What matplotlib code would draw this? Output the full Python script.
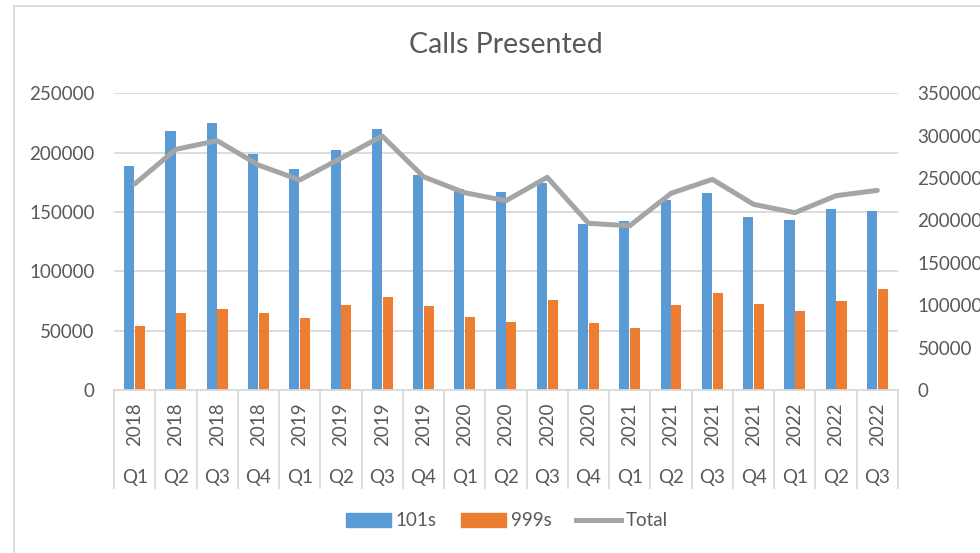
import numpy as np
import matplotlib
matplotlib.use("Agg")
import matplotlib.pyplot as plt
from matplotlib.lines import Line2D
from matplotlib.patches import Patch

plt.rcParams['font.family'] = ['Lato', 'DejaVu Sans']

years = ["2018", "2018", "2018", "2018", "2019", "2019", "2019", "2019",
         "2020", "2020", "2020", "2020", "2021", "2021", "2021", "2021",
         "2022", "2022", "2022"]
quarters = ["Q1", "Q2", "Q3", "Q4", "Q1", "Q2", "Q3", "Q4",
            "Q1", "Q2", "Q3", "Q4", "Q1", "Q2", "Q3", "Q4",
            "Q1", "Q2", "Q3"]
calls_101 = [188700, 218500, 225200, 198600, 186000, 202200, 219700, 181200,
             169400, 166800, 174700, 140100, 142100, 160400, 166000, 146000,
             143000, 152500, 150600]
calls_999 = [54200, 64600, 68500, 64600, 60900, 71400, 78100, 70500,
             61800, 57000, 76100, 56200, 52200, 71400, 82000, 72200,
             66600, 75200, 84800]
total = [243000, 283900, 294100, 265400, 247700, 273300, 299600, 251600,
         232700, 223300, 250900, 196600, 193800, 232000, 248500, 219000,
         209200, 229200, 235500]

BLUE = "#5B9BD5"
ORANGE = "#ED7D31"
GREY = "#A5A5A5"
TXT = "#595959"
GRID = "#D9D9D9"
FS = 13.5

fig = plt.figure(figsize=(9.8, 5.53), dpi=100)
ax = fig.add_axes([114/980, 1-390/553, (898-114)/980, (390-93.3)/553])
ax2 = ax.twinx()

x = np.arange(len(years))
w = 0.245
ax.bar(x - 0.13, calls_101, w, color=BLUE, zorder=2)
ax.bar(x + 0.13, calls_999, w, color=ORANGE, zorder=2)
ax2.plot(x, total, color=GREY, lw=3.6, solid_capstyle='round', solid_joinstyle='round')

ax.set_xlim(-0.5, len(years) - 0.5)
ax.set_ylim(0, 250000)
ax.set_yticks(np.arange(0, 250001, 50000))
ax2.set_ylim(0, 350000)
ax2.set_yticks(np.arange(0, 350001, 50000))
ax.yaxis.grid(True, color=GRID, lw=1.3, zorder=0)
ax.set_axisbelow(True)

for a in (ax, ax2):
    for s in a.spines.values():
        s.set_visible(False)
    a.tick_params(axis='y', length=0, labelsize=FS, labelcolor=TXT, pad=14)
ax.spines['bottom'].set_visible(True)
ax.spines['bottom'].set_color(GRID)
ax.spines['bottom'].set_linewidth(1.3)
ax.set_xticks([])

# two-level category axis
tr = ax.get_xaxis_transform()
for i in range(len(years) + 1):
    ax.plot([i - 0.5, i - 0.5], [0, -0.33], transform=tr, color=GRID, lw=1.3, clip_on=False)
for i in range(len(years)):
    ax.text(i, -0.115, years[i], transform=tr, rotation=90, ha='center', va='center',
            fontsize=FS, color=TXT)
    ax.text(i, -0.296, quarters[i], transform=tr, ha='center', va='center',
            fontsize=FS, color=TXT)

fig.text(506/980, 1-45/553, "Calls Presented", ha='center', va='center', fontsize=20.5, color=TXT)

# chart border (left and top edges visible)
fig.add_artist(Line2D([14/980, 14/980], [0, 1-6/553], color=GRID, lw=1.3))
fig.add_artist(Line2D([14/980, 1], [1-6/553, 1-6/553], color=GRID, lw=1.3))

handles = [Patch(color=BLUE), Patch(color=ORANGE), Line2D([], [], color=GREY, lw=3.6)]
fig.legend(handles, ["101s", "999s", "Total"], loc='center', bbox_to_anchor=(0.517, 1-521/553),
           ncol=3, frameon=False, fontsize=FS, labelcolor=TXT, handlelength=2.4,
           handleheight=0.7, handletextpad=0.25, columnspacing=1.3)

fig.savefig("out.png", dpi=100)
